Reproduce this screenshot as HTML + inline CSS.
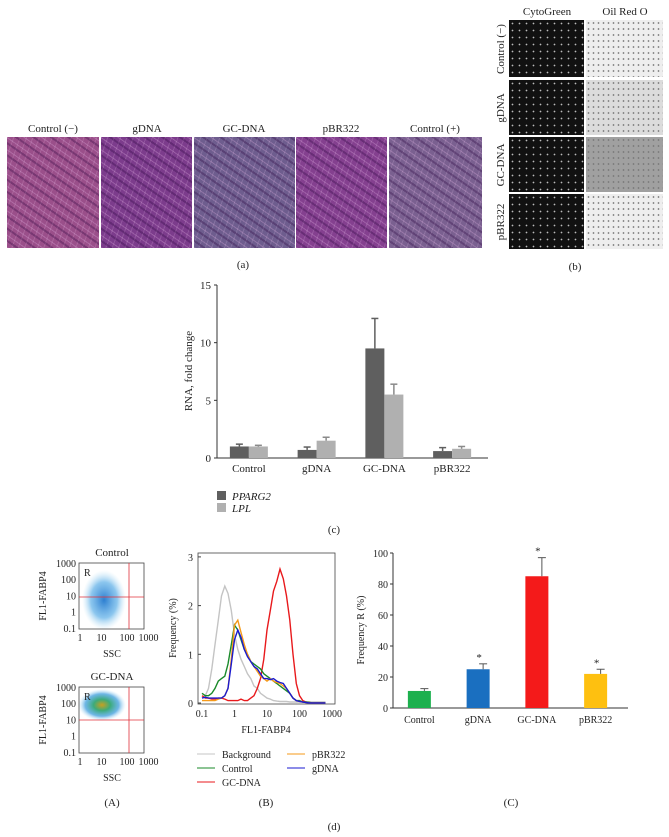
<!DOCTYPE html>
<html><head><meta charset="utf-8">
<style>
html,body{margin:0;padding:0;background:#fff;}
body{width:669px;height:837px;overflow:hidden;position:relative;font-family:"Liberation Serif",serif;}
.img{position:absolute;}
.he{background:
 repeating-linear-gradient(35deg,rgba(230,180,230,0.28) 0 1px,rgba(0,0,0,0) 1px 5px,rgba(40,0,60,0.3) 5px 7px,rgba(0,0,0,0) 7px 10px),
 repeating-linear-gradient(110deg,rgba(255,220,255,0.15) 0 1px,rgba(0,0,0,0) 1px 6px),
 #7c3c8c;}
.cg{background:radial-gradient(circle,#bbb 0 0.6px,rgba(0,0,0,0) 1.1px) 0 0/7px 7px,#111;}
.orc{background:radial-gradient(circle,#777 0 0.6px,rgba(0,0,0,0) 1.1px) 0 0/5px 6px,#eeeeee;}
</style></head><body>
<div class="img he" style="left:7px;top:137px;width:92px;height:111px;background-color:#9a4f8a"></div>
<div class="img he" style="left:101px;top:137px;width:91px;height:111px;"></div>
<div class="img he" style="left:194px;top:137px;width:101px;height:111px;background-color:#6e5d8e"></div>
<div class="img he" style="left:296px;top:137px;width:91px;height:111px;background-color:#84408f"></div>
<div class="img he" style="left:389px;top:137px;width:93px;height:111px;background-color:#7a6090"></div>
<div class="img cg" style="left:509px;top:20px;width:75px;height:57px"></div>
<div class="img cg" style="left:509px;top:80px;width:75px;height:55px"></div>
<div class="img cg" style="left:509px;top:137px;width:75px;height:55px"></div>
<div class="img cg" style="left:509px;top:194px;width:75px;height:55px"></div>
<div class="img orc" style="left:586px;top:20px;width:77px;height:57px"></div>
<div class="img orc" style="left:586px;top:80px;width:77px;height:55px;background-color:#dcdcdc"></div>
<div class="img orc" style="left:586px;top:137px;width:77px;height:55px;background-color:#a0a0a0"></div>
<div class="img orc" style="left:586px;top:194px;width:77px;height:55px"></div>

<svg id="svg" width="669" height="837" style="position:absolute;left:0;top:0" font-family="Liberation Serif, serif" font-size="11" fill="#222">
<g text-anchor="middle">
<text x="53" y="132">Control (−)</text><text x="147" y="132">gDNA</text><text x="244" y="132">GC-DNA</text><text x="341" y="132">pBR322</text><text x="435" y="132">Control (+)</text>
<text x="243" y="268">(a)</text>
</g>
<g text-anchor="middle">
<text x="547" y="15">CytoGreen</text><text x="625" y="15">Oil Red O</text>
<text transform="translate(504,49) rotate(-90)">Control (−)</text>
<text transform="translate(504,108) rotate(-90)">gDNA</text>
<text transform="translate(504,165) rotate(-90)">GC-DNA</text>
<text transform="translate(504,222) rotate(-90)">pBR322</text>
<text x="575" y="270">(b)</text>
</g>
<g id="chartc"></g>
<g id="scat"></g>
<g id="hist"></g>
<g id="chartC"></g>
<text x="334" y="533" text-anchor="middle">(c)</text>
<text x="334" y="830" text-anchor="middle">(d)</text>
</svg>
<script>
const ns="http://www.w3.org/2000/svg";
function mk(p,t,a,txt){const e=document.createElementNS(ns,t);for(const k in a)e.setAttribute(k,a[k]);if(txt!==undefined)e.textContent=txt;p.appendChild(e);return e;}

// ---- chart (c) data
const rnaCats=["Control","gDNA","GC-DNA","pBR322"];
const pparg2=[1.0,0.7,9.5,0.6];
const pparg2Err=[1.2,0.95,12.1,0.9];
const lpl=[1.0,1.5,5.5,0.8];
const lplErr=[1.1,1.8,6.4,1.0];
const rnaTicks=[0,5,10,15];

(function(){
 const g=document.getElementById('chartc');
 const y=v=>458-v*(173/15);
 const x0=217,x1=488;
 mk(g,'line',{x1:x0,y1:285,x2:x0,y2:458,stroke:'#333'});
 mk(g,'line',{x1:x0,y1:458,x2:x1,y2:458,stroke:'#333'});
 rnaTicks.forEach(t=>{mk(g,'line',{x1:x0-3,y1:y(t),x2:x0,y2:y(t),stroke:'#333'});const e=mk(g,'text',{x:x0-6,y:y(t)+4,'text-anchor':'end'},t);});
 const yl=mk(g,'text',{transform:'translate(192,371) rotate(-90)','text-anchor':'middle'},'RNA, fold change');
 
 const band=(x1-x0)/rnaCats.length;
 rnaCats.forEach((c,i)=>{
  const cx=x0+band*(i+0.5)-2;
  const b1=mk(g,'rect',{x:cx-19,y:y(pparg2[i]),width:19,height:y(0)-y(pparg2[i]),fill:'#5f5f5f'});
  
  mk(g,'line',{x1:cx-9.5,y1:y(pparg2[i]),x2:cx-9.5,y2:y(pparg2Err[i]),stroke:'#5f5f5f','stroke-width':1.5});
  mk(g,'line',{x1:cx-13,y1:y(pparg2Err[i]),x2:cx-6,y2:y(pparg2Err[i]),stroke:'#5f5f5f','stroke-width':1.5});
  const b2=mk(g,'rect',{x:cx,y:y(lpl[i]),width:19,height:y(0)-y(lpl[i]),fill:'#b0b0b0'});
  
  mk(g,'line',{x1:cx+9.5,y1:y(lpl[i]),x2:cx+9.5,y2:y(lplErr[i]),stroke:'#8a8a8a','stroke-width':1.5});
  mk(g,'line',{x1:cx+6,y1:y(lplErr[i]),x2:cx+13,y2:y(lplErr[i]),stroke:'#8a8a8a','stroke-width':1.5});
  const t=mk(g,'text',{x:cx,y:472,'text-anchor':'middle'},c);
  
 });
 mk(g,'rect',{x:217,y:491,width:9,height:9,fill:'#5f5f5f'});
 mk(g,'text',{x:232,y:500,'font-style':'italic'},'PPARG2');
 mk(g,'rect',{x:217,y:503,width:9,height:9,fill:'#b0b0b0'});
 mk(g,'text',{x:232,y:512,'font-style':'italic'},'LPL');
})();

// ---- scatter plots (density drawn as blobs)
(function(){
 const g=document.getElementById('scat');
 const defs=mk(g,'defs',{});
 const rg=mk(defs,'radialGradient',{id:'bl'});
 mk(rg,'stop',{offset:'0','stop-color':'#2d7fd0'});mk(rg,'stop',{offset:'0.6','stop-color':'#6fb8ea','stop-opacity':0.8});mk(rg,'stop',{offset:'1','stop-color':'#bfe4f7','stop-opacity':0});
 const rg2=mk(defs,'radialGradient',{id:'hot'});
 mk(rg2,'stop',{offset:'0','stop-color':'#c8a020'});mk(rg2,'stop',{offset:'0.35','stop-color':'#3cab7a'});mk(rg2,'stop',{offset:'0.7','stop-color':'#4aa4e0','stop-opacity':0.8});mk(rg2,'stop',{offset:'1','stop-color':'#bfe4f7','stop-opacity':0});
 const plots=[{title:'Control',top:563,cx:104,cy:600,rx:22,ry:30,f:'url(#bl)',hline:597},{title:'GC-DNA',top:687,cx:102,cy:705,rx:24,ry:16,f:'url(#hot)',hline:720}];
 plots.forEach(p=>{
  const L=79,R=144,T=p.top,B=p.top+66;
  mk(g,'text',{x:112,y:T-7,'text-anchor':'middle'},p.title);
  mk(g,'ellipse',{cx:p.cx,cy:p.cy,rx:p.rx,ry:p.ry,fill:p.f});
  mk(g,'rect',{x:L,y:T,width:R-L,height:B-T,fill:'none',stroke:'#444','stroke-width':0.8});
  mk(g,'line',{x1:L,y1:p.hline,x2:R,y2:p.hline,stroke:'#e0303a','stroke-width':0.8});
  mk(g,'line',{x1:129,y1:T,x2:129,y2:B,stroke:'#e0303a','stroke-width':0.8});
  mk(g,'text',{x:84,y:T+13,'font-size':10},'R');
  ['1000','100','10','1','0.1'].forEach((t,i)=>mk(g,'text',{x:L-3,y:T+4+i*16.2,'text-anchor':'end','font-size':10},t));
  ['1','10','100','1000'].forEach((t,i)=>mk(g,'text',{x:80+i*21.5+(i>1?4:0),y:B+12,'text-anchor':'middle','font-size':10},t));
  mk(g,'text',{x:112,y:B+28,'text-anchor':'middle','font-size':10},'SSC');
  mk(g,'text',{transform:`translate(46,${T+33}) rotate(-90)`,'text-anchor':'middle','font-size':10},'FL1-FABP4');
 });
 mk(g,'text',{x:112,y:806,'text-anchor':'middle'},'(A)');
})();

// ---- histogram data
const logX=[-1,-0.9,-0.8,-0.7,-0.6,-0.5,-0.4,-0.3,-0.2,-0.1,0,0.1,0.2,0.3,0.4,0.5,0.6,0.7,0.8,0.9,1,1.1,1.2,1.3,1.4,1.5,1.6,1.7,1.8,1.9,2,2.1,2.2,2.3,2.4,2.5,2.6,2.7,2.8];
const bgFreq=[0.1,0.15,0.3,0.7,1.2,1.7,2.2,2.4,2.25,1.9,1.4,1.1,0.9,0.75,0.6,0.5,0.35,0.3,0.2,0.15,0.1,0.08,0.05,0.04,0.03,0.03,0.03,0.02,0.02,0.02,0.02,0.02,0.02,0.02,0.02,0.02,0.02,0.02,0.02];
const ctrlFreq=[0.2,0.15,0.15,0.2,0.3,0.45,0.5,0.55,0.8,1.2,1.6,1.5,1.3,1.1,1.0,0.85,0.8,0.75,0.7,0.6,0.55,0.5,0.45,0.4,0.35,0.3,0.25,0.2,0.1,0.05,0.05,0.02,0.02,0.01,0,0,0,0,0];
const gcFreq=[0.15,0.1,0.1,0.08,0.08,0.1,0.1,0.08,0.05,0.05,0.05,0.05,0.08,0.05,0.05,0.1,0.15,0.3,0.5,0.9,1.5,1.9,2.3,2.5,2.75,2.55,2.2,1.7,1.0,0.4,0.15,0.05,0.02,0.01,0,0,0,0,0];
const pbrFreq=[0.05,0.05,0.05,0.05,0.05,0.08,0.1,0.15,0.3,0.9,1.6,1.7,1.45,1.2,1.0,0.85,0.75,0.65,0.55,0.5,0.45,0.5,0.45,0.42,0.4,0.35,0.3,0.2,0.1,0.05,0.03,0.02,0.01,0,0,0,0,0,0];
const gdnaFreq=[0.1,0.12,0.1,0.1,0.1,0.1,0.1,0.15,0.3,0.8,1.3,1.5,1.35,1.1,0.95,0.85,0.75,0.7,0.6,0.5,0.5,0.48,0.5,0.45,0.42,0.4,0.3,0.2,0.1,0.05,0.03,0.02,0.01,0,0,0,0,0,0];
const histTicksX=["0.1","1","10","100","1000"];
const histTicksY=[0,1,2,3];

(function(){
 const g=document.getElementById('hist');
 const x=l=>202+(l+1)*32.5, y=v=>703-v*48.7;
 mk(g,'rect',{x:198,y:553,width:137,height:151,fill:'none',stroke:'#444','stroke-width':0.8});
 histTicksY.forEach(t=>{mk(g,'text',{x:193,y:y(t)+4,'text-anchor':'end','font-size':10},t);mk(g,'line',{x1:198,y1:y(t),x2:201,y2:y(t),stroke:'#444'});});
 histTicksX.forEach((t,i)=>mk(g,'text',{x:x(i-1),y:717,'text-anchor':'middle','font-size':10},t));
 mk(g,'text',{x:266,y:733,'text-anchor':'middle','font-size':10},'FL1-FABP4');
 mk(g,'text',{transform:'translate(176,628) rotate(-90)','text-anchor':'middle','font-size':10},'Frequency (%)');
 const series=[[bgFreq,'#c4c4c4','background'],[gcFreq,'#e8191c','gc-dna'],[ctrlFreq,'#1a8a2a','control'],[pbrFreq,'#f59a1a','pbr322'],[gdnaFreq,'#1a1ad0','gdna']];
 series.forEach(s=>{
  const d=logX.map((l,i)=>(i?'L':'M')+x(l).toFixed(1)+','+y(s[0][i]).toFixed(1)).join('');
  const p=mk(g,'path',{d:d,fill:'none',stroke:s[1],'stroke-width':1.4});
  
  
 });
 const leg=[['Background','#c4c4c4',197,757],['Control','#1a8a2a',197,771],['GC-DNA','#e8191c',197,785],['pBR322','#f59a1a',287,757],['gDNA','#1a1ad0',287,771]];
 leg.forEach(l=>{mk(g,'line',{x1:l[2],y1:l[3]-3,x2:l[2]+18,y2:l[3]-3,stroke:l[1],'stroke-width':1});mk(g,'text',{x:l[2]+25,y:l[3]+1,'font-size':10},l[0]);});
 mk(g,'text',{x:266,y:806,'text-anchor':'middle'},'(B)');
})();

// ---- chart (C) data
const frCats=["Control","gDNA","GC-DNA","pBR322"];
const frVals=[11,25,85,22];
const frErr=[12.5,28.5,97,25];
const frSig=[false,true,true,true];
const frTicks=[0,20,40,60,80,100];
const frColors=["#1db04e","#1a6fc0","#f41a1a","#fec010"];

(function(){
 const g=document.getElementById('chartC');
 const y=v=>708-v*1.55;
 const x0=393,x1=628;
 mk(g,'line',{x1:x0,y1:553,x2:x0,y2:708,stroke:'#333'});
 mk(g,'line',{x1:x0,y1:708,x2:x1,y2:708,stroke:'#333'});
 frTicks.forEach(t=>{mk(g,'line',{x1:x0-3,y1:y(t),x2:x0,y2:y(t),stroke:'#333'});mk(g,'text',{x:x0-5,y:y(t)+4,'text-anchor':'end','font-size':10},t);});
 mk(g,'text',{transform:'translate(364,630) rotate(-90)','text-anchor':'middle','font-size':10},'Frequency R (%)');
 const band=(x1-x0)/frCats.length;
 frCats.forEach((c,i)=>{
  const cx=x0+band*(i+0.5)-3;
  const b=mk(g,'rect',{x:cx-11.5,y:y(frVals[i]),width:23,height:y(0)-y(frVals[i]),fill:frColors[i]});
  
  
  mk(g,'line',{x1:cx+5,y1:y(frVals[i]),x2:cx+5,y2:y(frErr[i]),stroke:'#555'});
  mk(g,'line',{x1:cx+1,y1:y(frErr[i]),x2:cx+9,y2:y(frErr[i]),stroke:'#555'});
  if(frSig[i])mk(g,'text',{x:cx+1,y:y(frErr[i])-3,'text-anchor':'middle','font-size':11},'*');
  mk(g,'text',{x:cx,y:723,'text-anchor':'middle','font-size':10},c);
 });
 mk(g,'text',{x:511,y:806,'text-anchor':'middle'},'(C)');
})();
</script>
</body></html>
